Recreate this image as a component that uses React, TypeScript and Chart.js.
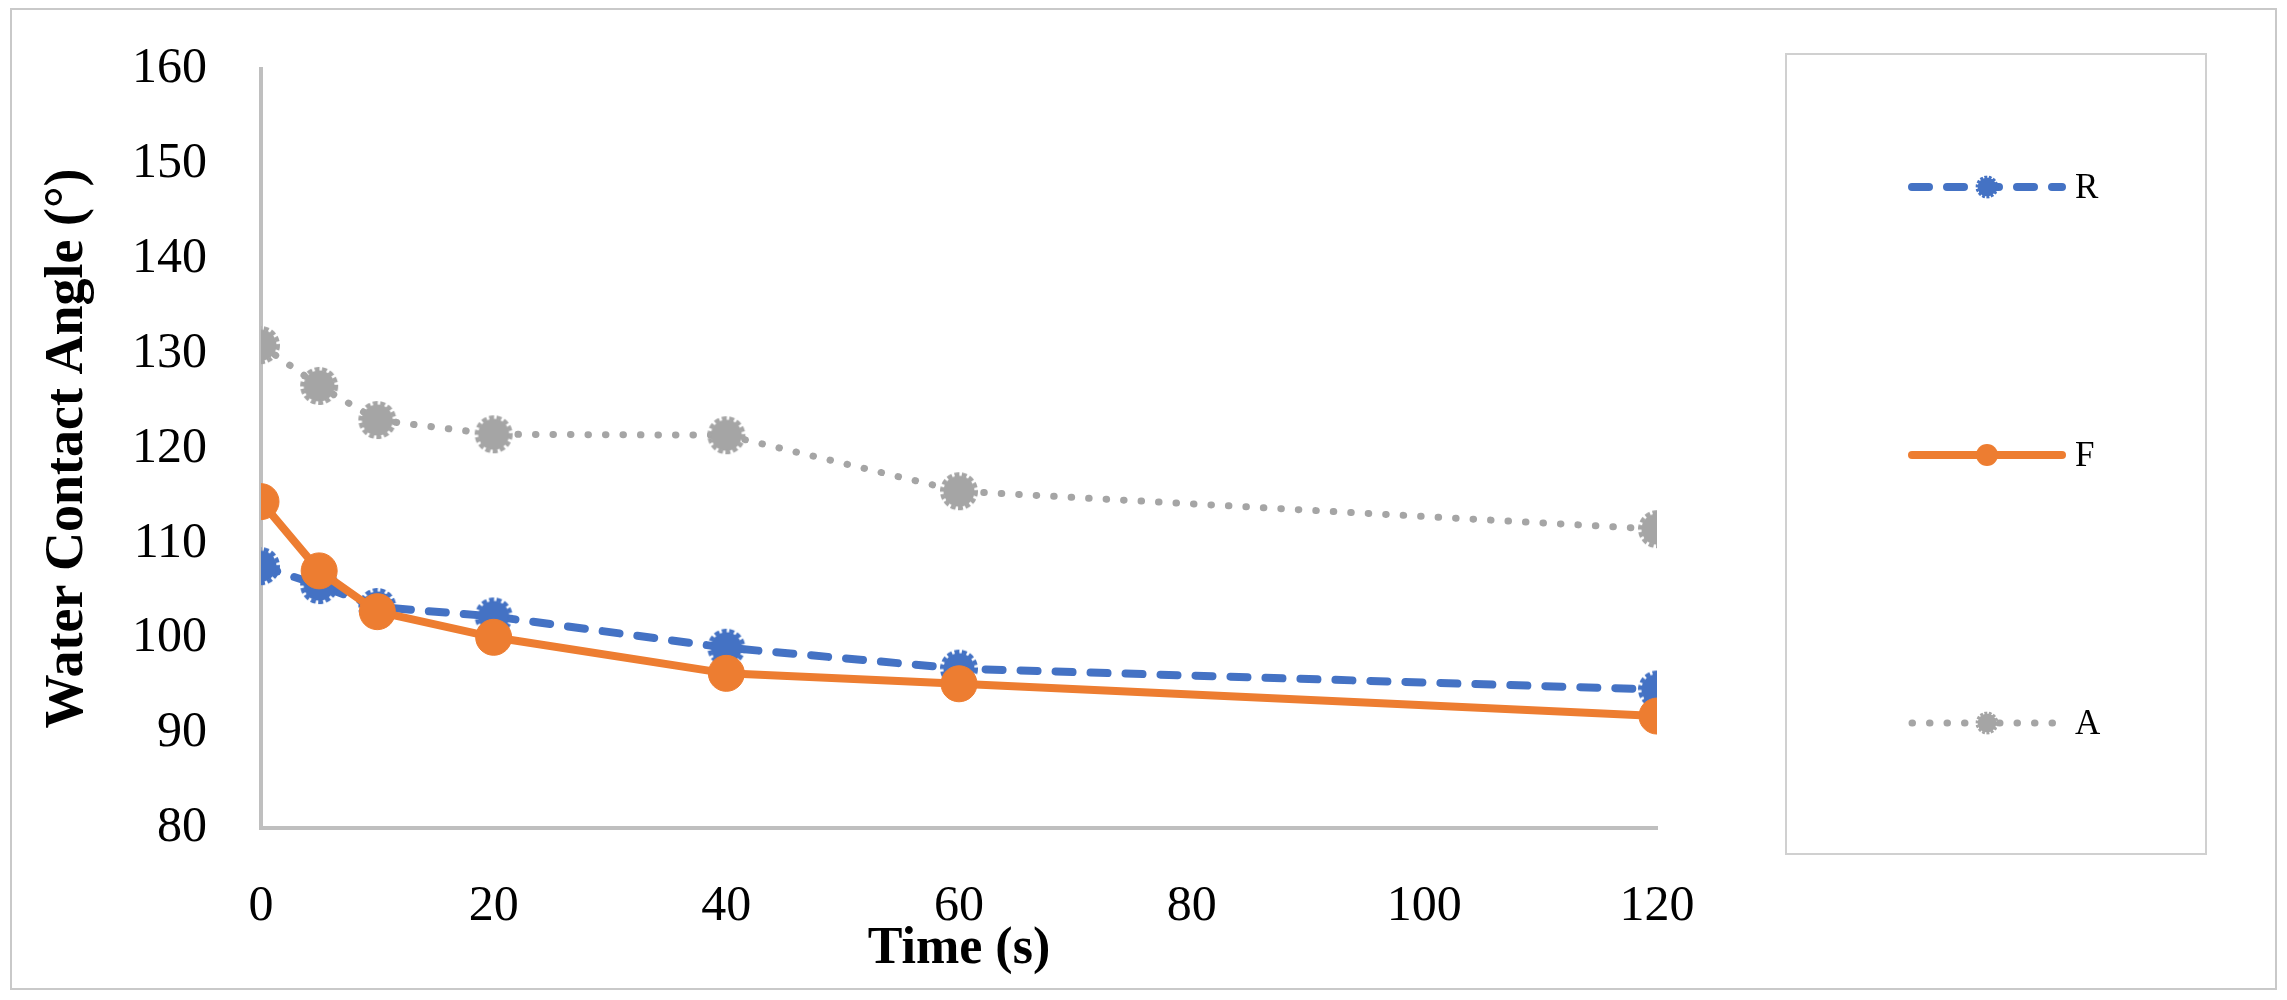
import React, { useEffect, useRef } from 'react';
import { Chart, registerables } from 'chart.js';

Chart.register(...registerables);

// ---- data ----
const times = [0, 5, 10, 20, 40, 60, 120];
const seriesLabels = ['R', 'F', 'A'];
const valuesR = [107.6, 105.6, 103.3, 102.3, 99.0, 96.8, 94.6];
const valuesF = [114.4, 107.1, 102.8, 100.1, 96.3, 95.2, 91.8];
const valuesA = [130.9, 126.6, 123.0, 121.5, 121.4, 115.5, 111.5];
const yMin = 80;
const yMax = 160;
const yStep = 10;
const xMin = 0;
const xMax = 120;
const xStep = 20;
const xTitle = 'Time (s)';
const yTitle = 'Water Contact Angle (°)';

const BLUE = '#4472C4';
const ORANGE = '#ED7D31';
const GRAY = '#A5A5A5';
const AXIS = '#BFBFBF';
const FONT = "'Liberation Serif', 'Times New Roman', serif";

function makeCog(color: string, r: number): HTMLCanvasElement {
  const size = Math.ceil(r * 2 + 8);
  const c = document.createElement('canvas');
  c.width = size;
  c.height = size;
  const ctx = c.getContext('2d')!;
  const m = size / 2;
  ctx.fillStyle = color;
  ctx.beginPath();
  ctx.arc(m, m, r - 0.5, 0, Math.PI * 2);
  ctx.fill();
  ctx.strokeStyle = color;
  ctx.lineWidth = 4;
  ctx.setLineDash([5, 2.5]);
  ctx.beginPath();
  ctx.arc(m, m, r + 1, 0, Math.PI * 2);
  ctx.stroke();
  return c;
}

const frameAndLegend = {
  id: 'frameAndLegend',
  beforeDraw(chart: any) {
    const ctx = chart.ctx;
    ctx.save();
    ctx.fillStyle = '#ffffff';
    ctx.fillRect(0, 0, chart.width, chart.height);
    ctx.strokeStyle = '#C9C9C9';
    ctx.lineWidth = 2;
    ctx.strokeRect(11, 9, 2276 - 11, 989 - 9);
    ctx.restore();
  },
  afterDraw(chart: any) {
    const ctx = chart.ctx;
    ctx.save();
    // legend box
    ctx.strokeStyle = '#D0D0D0';
    ctx.lineWidth = 2;
    ctx.strokeRect(1786, 54, 2206 - 1786, 854 - 54);
    const rowY = [187, 455, 723];
    const x0 = 1912;
    const x1 = 2062;
    chart.data.datasets.forEach((ds: any, i: number) => {
      const y = rowY[i];
      ctx.save();
      ctx.strokeStyle = ds.borderColor;
      ctx.lineWidth = ds.borderWidth;
      ctx.lineCap = 'round';
      ctx.setLineDash(ds.borderDash || []);
      ctx.beginPath();
      ctx.moveTo(x0, y);
      ctx.lineTo(x1, y);
      ctx.stroke();
      ctx.restore();
      const mx = (x0 + x1) / 2;
      const ps = ds.pointStyle;
      const k = 0.6;
      if (ps && typeof ps !== 'string') {
        ctx.drawImage(ps, mx - (ps.width * k) / 2, y - (ps.height * k) / 2, ps.width * k, ps.height * k);
      } else {
        ctx.fillStyle = ds.pointBackgroundColor;
        ctx.beginPath();
        ctx.arc(mx, y, 11, 0, Math.PI * 2);
        ctx.fill();
      }
      ctx.fillStyle = '#000000';
      ctx.font = `35px ${FONT}`;
      ctx.textAlign = 'left';
      ctx.textBaseline = 'middle';
      ctx.fillText(ds.label, 2075, y + 2);
    });
    ctx.restore();
  },
};

export default function App() {
  const ref = useRef<HTMLCanvasElement | null>(null);

  useEffect(() => {
    if (!ref.current) return;
    const toPts = (vals: number[]) => times.map((t, i) => ({ x: t, y: vals[i] }));
    const chart = new Chart(ref.current, {
      type: 'line',
      data: {
        datasets: [
          {
            label: seriesLabels[0],
            data: toPts(valuesR),
            borderColor: BLUE,
            backgroundColor: BLUE,
            borderWidth: 8,
            borderDash: [17, 18],
            borderCapStyle: 'round',
            borderJoinStyle: 'round',
            pointStyle: makeCog(BLUE, 16) as any,
            pointRadius: 17,
            pointBackgroundColor: BLUE,
            tension: 0,
            order: 1,
          },
          {
            label: seriesLabels[1],
            data: toPts(valuesF),
            borderColor: ORANGE,
            backgroundColor: ORANGE,
            borderWidth: 8,
            borderCapStyle: 'round',
            borderJoinStyle: 'round',
            pointStyle: 'circle',
            pointRadius: 18,
            pointBackgroundColor: ORANGE,
            pointBorderColor: ORANGE,
            pointBorderWidth: 1,
            tension: 0,
            order: 0,
          },
          {
            label: seriesLabels[2],
            data: toPts(valuesA),
            borderColor: GRAY,
            backgroundColor: GRAY,
            borderWidth: 7,
            borderDash: [0.5, 17],
            borderCapStyle: 'round',
            borderJoinStyle: 'round',
            pointStyle: makeCog(GRAY, 16) as any,
            pointRadius: 17,
            pointBackgroundColor: GRAY,
            tension: 0,
            order: 2,
          },
        ],
      },
      options: {
        responsive: false,
        animation: false,
        devicePixelRatio: 1,
        layout: { padding: { top: 69, right: 2287 - 1657, left: 0, bottom: 0 } },
        plugins: {
          legend: { display: false },
          tooltip: { enabled: false },
        },
        scales: {
          x: {
            type: 'linear',
            min: xMin,
            max: xMax,
            afterFit: (s: any) => {
              s.height = 1000 - 828;
              s.paddingLeft = 0;
              s.paddingRight = 0;
            },
            ticks: {
              stepSize: xStep,
              padding: 49,
              color: '#000',
              font: { family: FONT, size: 50 },
            },
            grid: { display: false, drawTicks: false },
            border: { display: true, color: AXIS, width: 4 },
            title: {
              display: true,
              text: xTitle,
              color: '#000',
              font: { family: FONT, size: 52, weight: 'bold' },
              padding: { top: 0, bottom: 19 },
            },
          },
          y: {
            type: 'linear',
            min: yMin,
            max: yMax,
            afterFit: (s: any) => {
              s.width = 261;
              s.paddingTop = 0;
              s.paddingBottom = 0;
            },
            ticks: {
              stepSize: yStep,
              padding: 54,
              color: '#000',
              font: { family: FONT, size: 50 },
            },
            grid: { display: false, drawTicks: false },
            border: { display: true, color: AXIS, width: 4 },
            title: {
              display: true,
              text: yTitle,
              color: '#000',
              font: { family: FONT, size: 54, weight: 'bold' },
              padding: { top: 36, bottom: 0 },
            },
          },
        },
      },
      plugins: [frameAndLegend],
    } as any);
    return () => chart.destroy();
  }, []);

  return (
    <div style={{ position: 'fixed', left: 0, top: 0, width: '2287px', height: '1000px', background: '#fff' }}>
      <canvas ref={ref} width={2287} height={1000} style={{ width: '2287px', height: '1000px', display: 'block' }} />
    </div>
  );
}
